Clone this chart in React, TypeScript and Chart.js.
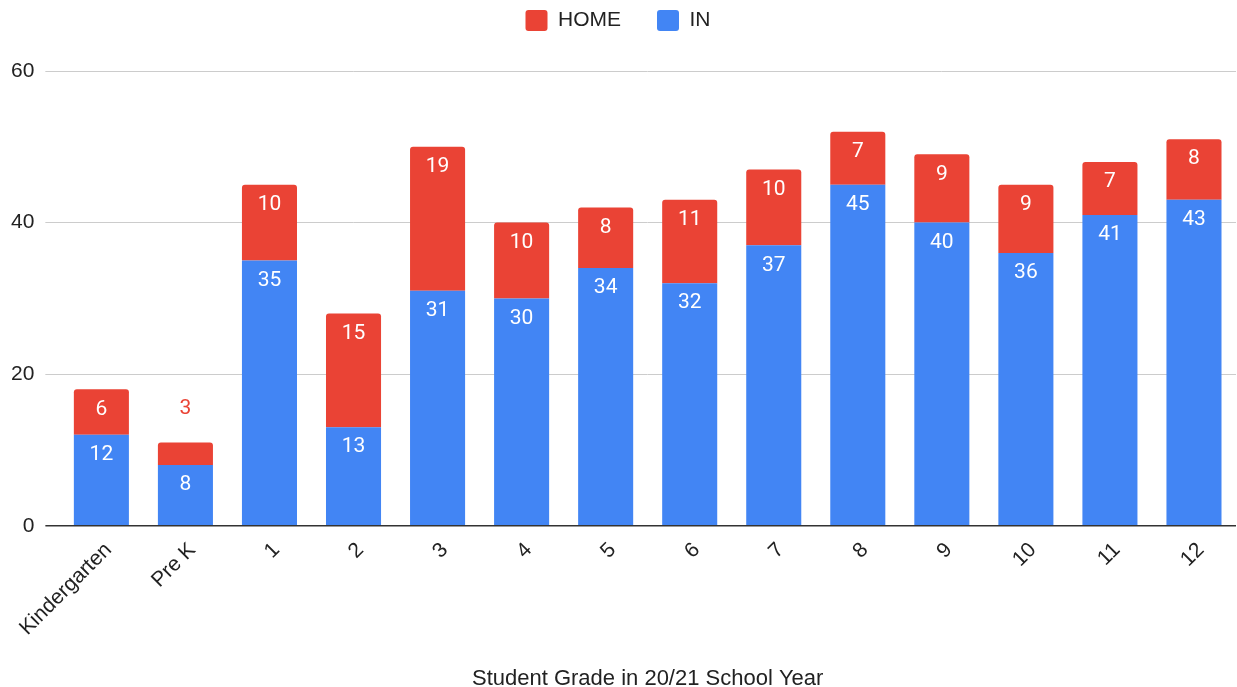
import React, { useEffect, useRef } from "react";
import { Chart, registerables } from "chart.js";

Chart.register(...registerables);

const categories = ["Kindergarten", "Pre K", "1", "2", "3", "4", "5", "6", "7", "8", "9", "10", "11", "12"];
const inValues = [12, 8, 35, 13, 31, 30, 34, 32, 37, 45, 40, 36, 41, 43];
const homeValues = [6, 3, 10, 15, 19, 10, 8, 11, 10, 7, 9, 9, 7, 8];
const yTicks = [0, 20, 40, 60];
const xTitle = "Student Grade in 20/21 School Year";

const BLUE = "#4285F4";
const RED = "#EA4335";
const FONT = "'Liberation Sans', Arial, sans-serif";

const legendSpacer = {
  id: "legendSpacer",
  beforeInit(chart: any) {
    const orig = chart.legend.fit;
    chart.legend.fit = function () {
      orig.bind(chart.legend)();
      this.height += 30;
    };
  },
};

const barLabels = {
  id: "barLabels",
  afterDatasetsDraw(chart: any) {
    const ctx = chart.ctx;
    ctx.save();
    ctx.font = "21px Roboto, 'Liberation Sans', sans-serif";
    ctx.textAlign = "center";
    ctx.textBaseline = "middle";
    chart.data.datasets.forEach((ds: any, di: number) => {
      const meta = chart.getDatasetMeta(di);
      meta.data.forEach((bar: any, i: number) => {
        const v = ds.data[i];
        const top = Math.min(bar.y, bar.base);
        const h = Math.abs(bar.base - bar.y);
        if (h >= 32) {
          ctx.fillStyle = "#ffffff";
          ctx.fillText(String(v), bar.x, top + 20);
        } else {
          ctx.fillStyle = ds.backgroundColor;
          ctx.fillText(String(v), bar.x, top - 34);
        }
      });
    });
    ctx.restore();
  },
};

export default function App() {
  const ref = useRef<HTMLCanvasElement | null>(null);
  useEffect(() => {
    if (!ref.current) return;
    const chart = new Chart(ref.current, {
      type: "bar",
      data: {
        labels: categories,
        datasets: [
          {
            label: "IN",
            data: inValues,
            backgroundColor: BLUE,
            barPercentage: 0.655,
            categoryPercentage: 1,
            borderRadius: 0,
          },
          {
            label: "HOME",
            data: homeValues,
            backgroundColor: RED,
            barPercentage: 0.655,
            categoryPercentage: 1,
            borderRadius: { topLeft: 3, topRight: 3, bottomLeft: 0, bottomRight: 0 },
            borderSkipped: false,
          },
        ],
      },
      options: {
        animation: false,
        responsive: true,
        maintainAspectRatio: false,
        layout: { autoPadding: false, padding: { top: -26, left: 0, right: 1, bottom: -5 } },
        plugins: {
          legend: {
            position: "top",
            reverse: true,
            labels: {
              boxWidth: 22,
              boxHeight: 21,
              padding: 36,
              color: "#222",
              useBorderRadius: true,
              borderRadius: 3,
              font: { family: FONT, size: 21 },
            },
          },
          tooltip: { enabled: false },
        },
        scales: {
          x: {
            stacked: true,
            offset: true,
            grid: { display: false },
            border: { display: false },
            afterFit(scale: any) {
              scale.paddingLeft = 0;
            },
            ticks: {
              color: "#222",
              font: { family: FONT, size: 21 },
              maxRotation: 45,
              minRotation: 45,
              padding: 4,
              labelOffset: 7,
              autoSkip: false,
            },
            title: {
              display: true,
              text: xTitle,
              color: "#222",
              font: { family: FONT, size: 22 },
              padding: { top: 21, bottom: 0 },
            },
          },
          y: {
            stacked: true,
            min: 0,
            max: 60,
            afterBuildTicks(scale: any) {
              scale.ticks = yTicks.map((v) => ({ value: v }));
            },
            border: { display: false },
            grid: {
              color: (c: any) => (c.tick && c.tick.value === 0 ? "#333333" : "#cccccc"),
              lineWidth: (c: any) => (c.tick && c.tick.value === 0 ? 1.5 : 1),
              drawTicks: true,
              tickLength: 14,
            },
            ticks: {
              color: "#222",
              font: { family: FONT, size: 21 },
              padding: 11,
            },
          },
        },
      },
      plugins: [legendSpacer, barLabels],
    });
    return () => chart.destroy();
  }, []);
  return (
    <div style={{ position: "absolute", left: 0, top: 0, width: 1237, height: 687, background: "#fff" }}>
      <canvas ref={ref} />
    </div>
  );
}
